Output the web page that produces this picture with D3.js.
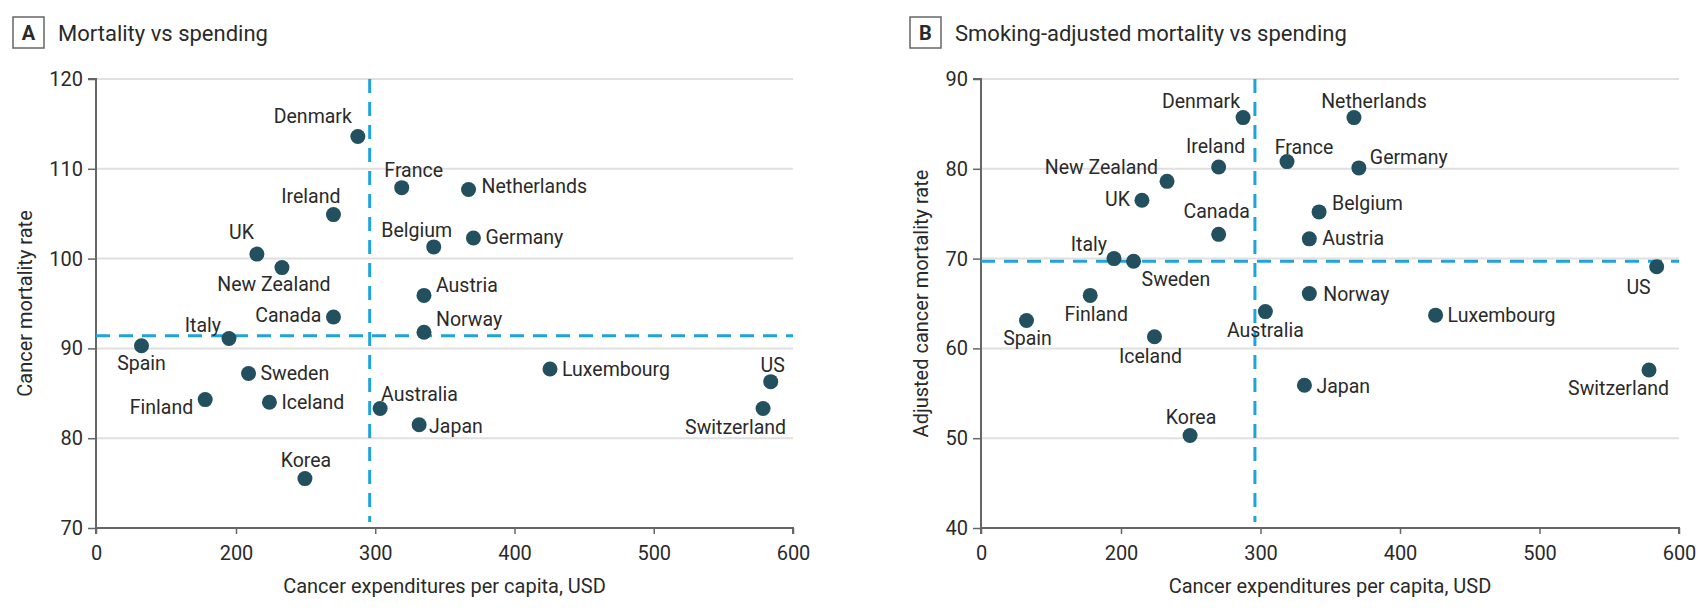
<!DOCTYPE html>
<html lang="en">
<head>
<meta charset="utf-8">
<script src="https://d3js.org/d3.v7.min.js"></script>
<style>
  body { margin: 0; background: #fff; }
  text { font-family: Roboto, "Open Sans", sans-serif; fill: #2a2a2a; }
</style>
</head>
<body>
<script>
var width = 1706;
var height = 614;

// data
var countries = ["Spain", "Finland", "Italy", "Sweden", "UK", "Iceland", "New Zealand", "Korea",
                 "Ireland", "Canada", "Denmark", "Australia", "France", "Japan", "Austria", "Norway",
                 "Belgium", "Netherlands", "Germany", "Luxembourg", "Switzerland", "US"];
var spending = [65, 156, 190, 209, 215, 224, 233, 249.5,
                270, 270, 287.5, 303.5, 319, 331.5, 335, 335,
                342, 367, 370.5, 425.5, 578.5, 584];
var mortality = [90.3, 84.3, 91.1, 87.2, 100.5, 84.0, 99.0, 75.5,
                 104.9, 93.5, 113.6, 83.3, 107.9, 81.5, 95.9, 91.8,
                 101.3, 107.7, 102.3, 87.7, 83.3, 86.3];
var adjustedMortality = [63.1, 65.9, 70.0, 69.7, 76.5, 61.3, 78.6, 50.3,
                         80.2, 72.7, 85.7, 64.1, 80.8, 55.9, 72.2, 66.1,
                         75.2, 85.7, 80.1, 63.7, 57.6, 69.1];

var xTicks = [0, 200, 300, 400, 500, 600];
var yTicksA = [70, 80, 90, 100, 110, 120];
var yTicksB = [40, 50, 60, 70, 80, 90];

var meanSpending = 296;
var meanMortality = 91.4;
var meanAdjusted = 69.7;

// label placement: [anchor, dx, dy] from dot centre
var labelsA = {
  "Denmark": ["end", -6, -13], "Ireland": ["end", 7, -12], "UK": ["end", -3, -15],
  "New Zealand": ["middle", -8, 23], "Canada": ["end", -12, 5], "Italy": ["end", -8, -7],
  "Spain": ["middle", 0, 24], "Sweden": ["start", 12, 6], "Finland": ["end", -12, 14],
  "Iceland": ["start", 12, 7], "Korea": ["middle", 1, -12], "Australia": ["start", 1, -8],
  "Japan": ["start", 10, 8], "Luxembourg": ["start", 12, 7], "US": ["middle", 2, -10],
  "Switzerland": ["end", 23, 25], "France": ["middle", 12, -11], "Netherlands": ["start", 13, 4],
  "Belgium": ["middle", -17, -10], "Germany": ["start", 12, 6], "Austria": ["start", 12, -3],
  "Norway": ["start", 12, -6]
};
var labelsB = {
  "Denmark": ["end", -3, -10], "Ireland": ["middle", -3, -14], "New Zealand": ["end", -9, -7],
  "UK": ["end", -12, 6], "Canada": ["middle", -2, -16], "Italy": ["end", -7, -8],
  "Sweden": ["start", 8, 25], "Finland": ["middle", 6, 26], "Spain": ["middle", 1, 24],
  "Iceland": ["middle", -4, 26], "Korea": ["middle", 1, -12], "Australia": ["middle", 0, 25],
  "France": ["middle", 17, -8], "Netherlands": ["middle", 20, -10], "Germany": ["start", 11, -4],
  "Belgium": ["start", 13, -2], "Austria": ["start", 13, 6], "US": ["end", -6, 27],
  "Norway": ["start", 14, 7], "Luxembourg": ["start", 12, 7], "Japan": ["start", 12, 8],
  "Switzerland": ["end", 20, 25]
};

var dotColor = "#23505f";
var meanColor = "#1fa3dd";

var svg = d3.select("body").append("svg")
            .attr("width", width)
            .attr("height", height);

function drawPanel(p) {
    // x axis is broken: 0-200 squeezed into the width of one 100 step
    var x = d3.scaleLinear().domain([0, 200, 600]).range([p.left, p.left + 140, p.right]);
    var y = d3.scaleLinear().domain(p.yDomain).range([528, 79]);
    var g = svg.append("g");

    // letter box + title
    g.append("rect")
     .attr("x", p.boxX).attr("y", 17).attr("width", 31).attr("height", 31)
     .attr("fill", "none").attr("stroke", "#666").attr("stroke-width", 1.5);
    g.append("text")
     .attr("x", p.boxX + 15.5).attr("y", 40)
     .attr("text-anchor", "middle")
     .style("font-size", "20px").style("font-weight", "bold")
     .text(p.letter);
    g.append("text")
     .attr("x", p.boxX + 45).attr("y", 41)
     .style("font-size", "22px")
     .text(p.title);

    // gridlines
    g.selectAll(".grid").data(p.yTicks.slice(1)).enter().append("line")
     .attr("x1", p.left).attr("x2", p.right)
     .attr("y1", function(d) { return y(d); })
     .attr("y2", function(d) { return y(d); })
     .attr("stroke", "#e0e0e0").attr("stroke-width", 2);

    // axes
    var yAxis = g.append("g").attr("transform", "translate(" + p.left + ",0)")
        .call(d3.axisLeft(y).tickValues(p.yTicks).tickSize(8).tickPadding(5));
    var xAxis = g.append("g").attr("transform", "translate(0,528)")
        .call(d3.axisBottom(x).tickValues(xTicks).tickSize(6).tickPadding(12));
    [xAxis, yAxis].forEach(function(a) {
        a.select(".domain").attr("stroke", "#666").attr("stroke-width", 2);
        a.selectAll(".tick line").attr("stroke", "#666").attr("stroke-width", 1.5);
        a.selectAll(".tick text").style("font-size", "20px").attr("fill", "#2a2a2a")
         .style("font-family", "Roboto, sans-serif");
    });
    xAxis.select(".domain").attr("d", "M" + p.left + ",6V0H" + p.right + "V6");
    yAxis.select(".domain").attr("d", "M-8," + y(p.yDomain[1]) + "H0V" + y(p.yDomain[0]));

    g.append("text")
     .attr("x", (p.left + p.right) / 2).attr("y", 593)
     .attr("text-anchor", "middle")
     .style("font-size", "20px")
     .text("Cancer expenditures per capita, USD");
    g.append("text")
     .attr("transform", "translate(" + p.yTitleX + "," + (79 + 528) / 2 + ") rotate(-90)")
     .attr("text-anchor", "middle")
     .style("font-size", "20px")
     .text(p.yTitle);

    // mean lines
    g.append("line")
     .attr("x1", x(meanSpending)).attr("x2", x(meanSpending))
     .attr("y1", y(p.yDomain[1])).attr("y2", 522)
     .attr("stroke", meanColor).attr("stroke-width", 3).attr("stroke-dasharray", "14,9");
    g.append("line")
     .attr("x1", p.left).attr("x2", p.right)
     .attr("y1", y(p.mean)).attr("y2", y(p.mean))
     .attr("stroke", meanColor).attr("stroke-width", 3).attr("stroke-dasharray", "14,9");

    // dots + labels
    var idx = d3.range(countries.length);
    g.selectAll(".dot").data(idx).enter().append("circle")
     .attr("cx", function(i) { return x(spending[i]); })
     .attr("cy", function(i) { return y(p.values[i]); })
     .attr("r", 7.5)
     .attr("fill", dotColor);
    g.selectAll(".lbl").data(idx).enter().append("text")
     .attr("x", function(i) { return x(spending[i]) + p.labels[countries[i]][1]; })
     .attr("y", function(i) { return y(p.values[i]) + p.labels[countries[i]][2]; })
     .attr("text-anchor", function(i) { return p.labels[countries[i]][0]; })
     .style("font-size", "19.5px")
     .text(function(i) { return countries[i]; });
}

drawPanel({ left: 96, right: 793, boxX: 13, letter: "A", title: "Mortality vs spending",
            yDomain: [70, 120], yTicks: yTicksA, values: mortality, mean: meanMortality,
            labels: labelsA, yTitle: "Cancer mortality rate", yTitleX: 32 });
drawPanel({ left: 981, right: 1679, boxX: 910, letter: "B", title: "Smoking-adjusted mortality vs spending",
            yDomain: [40, 90], yTicks: yTicksB, values: adjustedMortality, mean: meanAdjusted,
            labels: labelsB, yTitle: "Adjusted cancer mortality rate", yTitleX: 928 });
</script>
</body>
</html>
